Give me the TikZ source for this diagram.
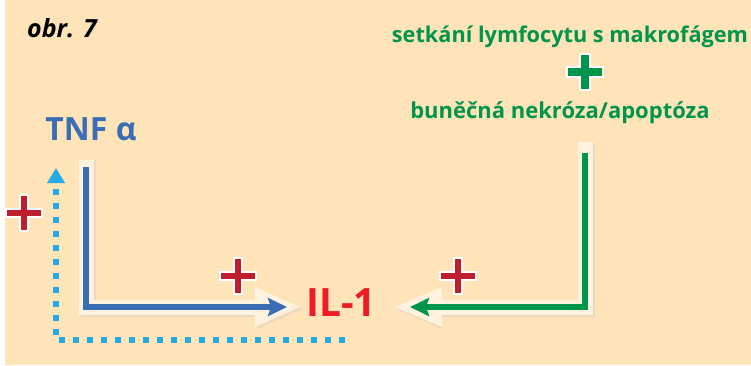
\documentclass[tikz,border=0pt]{standalone}
\usepackage{fontspec}
\setmainfont{Open Sans}
\usetikzlibrary{arrows.meta,calc}

\definecolor{paper}{HTML}{FFE4BA}
\definecolor{glow}{HTML}{FFF2DE}
\definecolor{glowshade}{HTML}{E9D7BC}
\definecolor{tnfblue}{HTML}{3B6DB4}
\definecolor{loopcyan}{HTML}{27AAE1}
\definecolor{signalgreen}{HTML}{00954A}
\definecolor{plusred}{HTML}{BE1E2D}
\definecolor{ilred}{HTML}{ED1C24}

\tikzset{
  label text/.style={font=\bfseries\fontsize{#1}{#1}\selectfont, inner sep=0pt, anchor=base},
  main line/.style={line width=5.5pt, -{Stealth[length=19pt,width=18pt,inset=3pt]}},
  loop line/.style={line width=6pt, loopcyan, dash pattern=on 6.5pt off 7.5pt,
    -{Triangle[length=15pt,width=17pt]}},
  glow line/.style={line width=15pt, glow},
  glow shade/.style={line width=15pt, glowshade, opacity=0.8},
}

% plus sign with a white rim: #1 centre, #2 colour, #3 arm thickness, #4 name
\newcommand{\rimplus}[4]{%
  \fill[white] ($(#1)+(-17-2,-#3/2-2)$) rectangle ($(#1)+(17+2,#3/2+2)$);
  \fill[white] ($(#1)+(-#3/2-2,-17-2)$) rectangle ($(#1)+(#3/2+2,17+2)$);
  \fill[#2] ($(#1)+(-17,-#3/2)$) rectangle ($(#1)+(17,#3/2)$);
  \fill[#2] ($(#1)+(-#3/2,-17)$) rectangle ($(#1)+(#3/2,17)$);
  \coordinate (#4) at (#1);
}

\begin{document}
\begin{tikzpicture}[x=1pt,y=-1pt]
  \useasboundingbox (0,0) rectangle (751,365);
  \fill[white] (0,0) rectangle (751,365);
  \fill[paper] (5,0) rectangle (751,365);

  % labels
  \node[label text=25, font=\bfseries\itshape\fontsize{25}{25}\selectfont] (obr) at (62,37) {obr. 7};
  \node[label text=21.7, text=signalgreen] (meet) at (570,42) {setkání lymfocytu s makrofágem};
  \node[label text=22, text=signalgreen] (necro) at (560,118) {buněčná nekróza/apoptóza};
  \node[label text=32, text=tnfblue] (tnf) at (91,140) {TNF α};
  \node[label text=39, text=ilred] (il1) at (341,316) {IL-1};

  % connector anchors
  \coordinate (bstart) at (86,167);
  \coordinate (gstart) at (585,153);
  \coordinate (btip) at (287,307);
  \coordinate (gtip) at (410,307);
  \coordinate (cstart) at (345,340);
  \coordinate (ctip) at (56,168);

  % soft glow behind the solid arrows
  \draw[glow shade] ([shift={(2,0)}]bstart) ++(0,-7) |- ([shift={(-20,2)}]btip);
  \fill[glowshade, opacity=0.8] ([shift={(-30,-18)}]btip) -- ([shift={(16,2)}]btip) -- ([shift={(-30,22)}]btip) -- cycle;
  \draw[glow line] ([shift={(0,-7)}]bstart) |- ([shift={(-20,0)}]btip);
  \fill[glow] ([shift={(-32,-20)}]btip) -- ([shift={(13,0)}]btip) -- ([shift={(-32,20)}]btip) -- cycle;

  \draw[glow shade] ([shift={(2,-9)}]gstart) |- ([shift={(20,2)}]gtip);
  \fill[glowshade, opacity=0.8] ([shift={(32,-18)}]gtip) -- ([shift={(-13,2)}]gtip) -- ([shift={(32,22)}]gtip) -- cycle;
  \draw[glow line] ([shift={(0,-11)}]gstart) |- ([shift={(20,0)}]gtip);
  \fill[glow] ([shift={(32,-20)}]gtip) -- ([shift={(-15,0)}]gtip) -- ([shift={(32,20)}]gtip) -- cycle;

  % connectors
  \draw[main line, tnfblue] (bstart) |- (btip);
  \draw[main line, signalgreen] (gstart) |- (gtip);
  \draw[loop line] (cstart) -| (ctip);

  % plus signs
  \rimplus{585,72}{signalgreen}{7.5}{pgreen}
  \rimplus{24,213}{plusred}{5.5}{pleft}
  \rimplus{238,276}{plusred}{5.5}{pblue}
  \rimplus{458,276}{plusred}{5.5}{pgreenarrow}
\end{tikzpicture}
\end{document}
